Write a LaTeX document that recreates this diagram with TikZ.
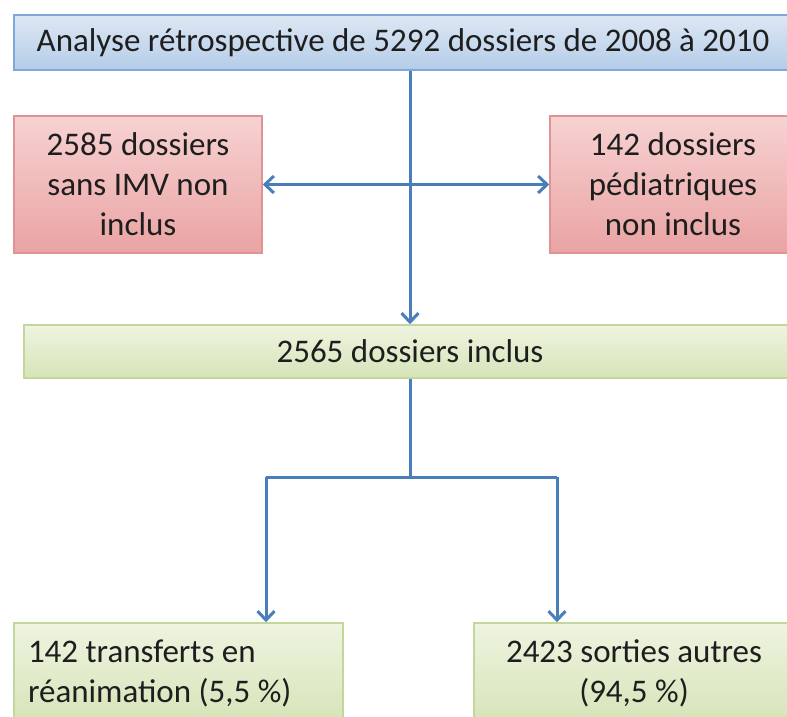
\documentclass[tikz,border=0pt]{standalone}
\usepackage{fontspec}
\setmainfont{Carlito}
\usepackage{tikz}
\usetikzlibrary{arrows.meta}

\definecolor{arrblue}{HTML}{4A7EBB}
\definecolor{bluefill}{HTML}{DDE8F4}
\definecolor{bluefilldark}{HTML}{B4CCE8}
\definecolor{blueline}{HTML}{7FA8DA}
\definecolor{redfill}{HTML}{F7D2D2}
\definecolor{redfilldark}{HTML}{EAA3A3}
\definecolor{redline}{HTML}{DE9494}
\definecolor{greenfill}{HTML}{EEF4E0}
\definecolor{greenfilldark}{HTML}{D6E4B8}
\definecolor{greenline}{HTML}{C3D69B}
\definecolor{txt}{HTML}{1E1E1E}

\begin{document}
\begin{tikzpicture}[x=1pt, y=-1pt,
        every node/.style={font=\fontsize{33}{40}\selectfont, text=txt},
        bluebox/.style={draw=blueline, line width=1.5pt, top color=bluefill, bottom color=bluefilldark, inner sep=0pt},
        redbox/.style={draw=redline, line width=1.5pt, top color=redfill, bottom color=redfilldark, inner sep=0pt, align=center},
        greenbox/.style={draw=greenline, line width=1.5pt, top color=greenfill, bottom color=greenfilldark, inner sep=0pt},
        arr/.style={draw=arrblue, line width=3pt}]
        \useasboundingbox (0,0) rectangle (787,716);
        \clip (0,0) rectangle (787,716);
        \node [bluebox, minimum width=778pt, minimum height=55pt] (analyse) at (403,42.5) {Analyse rétrospective de 5292 dossiers de 2008 à 2010};
        \node [redbox, minimum width=248pt, minimum height=137pt] (sansimv) at (138,184.5) {2585 dossiers\\sans IMV non\\inclus};
        \node [redbox, minimum width=246pt, minimum height=137pt] (pedia) at (673,184.5) {142 dossiers\\pédiatriques\\non inclus};
        \node [greenbox, minimum width=772pt, minimum height=53pt] (inclus) at (410,351.5) {2565 dossiers inclus};
        \node [greenbox, inner xsep=14pt, text width=301pt, align=flush left, minimum height=100pt] (transf) at (178.5,673) {142 transferts en\\réanimation (5,5~\%)};
        \node [greenbox, align=center, minimum width=320pt, minimum height=100pt] (sorties) at (634,673) {2423 sorties autres\\(94,5~\%)};
        \coordinate (split) at (410,477);
        \coordinate (lsplit) at (266,477);
        \coordinate (rsplit) at (557,477);
        \draw [arr, -{Straight Barb[length=9pt, width=17pt]}] (analyse.south -| inclus.north) -- (inclus.north);
        \draw [arr, {Straight Barb[length=9pt, width=17pt]}-{Straight Barb[length=9pt, width=17pt]}] (sansimv.east) -- (pedia.west);
        \draw [arr] (inclus.south) -- (split);
        \draw [arr] (lsplit) -- (rsplit);
        \draw [arr, -{Straight Barb[length=9pt, width=17pt]}] (lsplit) -- (lsplit |- transf.north);
        \draw [arr, -{Straight Barb[length=9pt, width=17pt]}] (rsplit) -- (rsplit |- sorties.north);
    \end{tikzpicture}
\end{document}
